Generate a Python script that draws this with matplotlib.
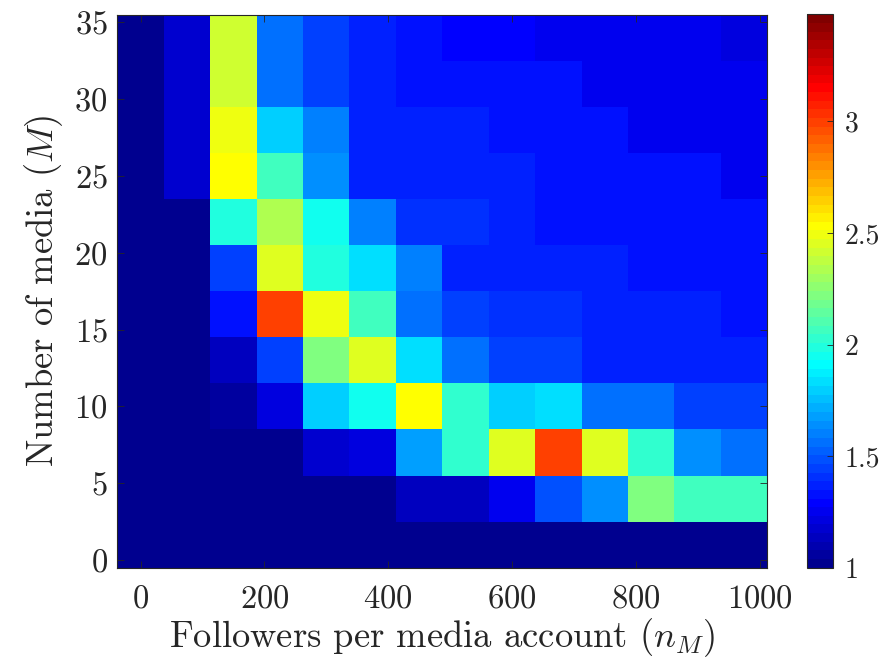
import numpy as np
import matplotlib
matplotlib.use("Agg")
import matplotlib.pyplot as plt
from matplotlib.colors import ListedColormap, Normalize

# ---- data ----
followers = [0, 75, 150, 225, 300, 375, 450, 525, 600, 675, 750, 825, 900, 975]
media = [1, 4, 7, 10, 13, 16, 19, 22, 25, 28, 31, 34]

row_M1  = [1.00, 1.00, 1.00, 1.00, 1.00, 1.00, 1.00, 1.00, 1.00, 1.00, 1.00, 1.00, 1.00, 1.00]
row_M4  = [1.00, 1.00, 1.00, 1.00, 1.02, 1.02, 1.14, 1.12, 1.25, 1.47, 1.65, 2.21, 2.05, 2.05]
row_M7  = [1.00, 1.00, 1.00, 1.01, 1.18, 1.23, 1.66, 2.01, 2.47, 3.01, 2.47, 2.01, 1.65, 1.57]
row_M10 = [1.00, 1.02, 1.04, 1.20, 1.78, 1.93, 2.55, 2.01, 1.78, 1.85, 1.56, 1.56, 1.46, 1.46]
row_M13 = [1.00, 1.00, 1.15, 1.43, 2.22, 2.47, 1.82, 1.58, 1.43, 1.43, 1.36, 1.36, 1.36, 1.36]
row_M16 = [1.00, 1.02, 1.31, 3.01, 2.51, 2.05, 1.56, 1.44, 1.40, 1.40, 1.35, 1.35, 1.35, 1.31]
row_M19 = [1.00, 1.01, 1.43, 2.47, 1.97, 1.85, 1.59, 1.36, 1.35, 1.35, 1.35, 1.31, 1.31, 1.31]
row_M22 = [1.00, 1.02, 1.97, 2.32, 1.93, 1.59, 1.40, 1.41, 1.35, 1.31, 1.31, 1.31, 1.31, 1.31]
row_M25 = [1.00, 1.18, 2.55, 2.05, 1.62, 1.36, 1.36, 1.36, 1.36, 1.31, 1.31, 1.31, 1.31, 1.26]
row_M28 = [1.00, 1.18, 2.51, 1.78, 1.59, 1.38, 1.38, 1.37, 1.31, 1.31, 1.31, 1.26, 1.26, 1.26]
row_M31 = [1.00, 1.18, 2.41, 1.56, 1.43, 1.35, 1.34, 1.31, 1.31, 1.31, 1.27, 1.27, 1.27, 1.27]
row_M34 = [1.00, 1.19, 2.41, 1.56, 1.43, 1.36, 1.31, 1.30, 1.30, 1.26, 1.26, 1.26, 1.26, 1.22]

x_ticks = [0, 200, 400, 600, 800, 1000]
y_ticks = [0, 5, 10, 15, 20, 25, 30, 35]
cbar_ticks = [1, 1.5, 2, 2.5, 3]
cbar_labels = ["1", "1.5", "2", "2.5", "3"]
c_min, c_max = 1.0, 3.48


def matlab_jet(m=64):
    n = int(np.ceil(m / 4))
    u = np.concatenate([np.arange(1, n + 1) / n, np.ones(n - 1), np.arange(n, 0, -1) / n])
    g = int(np.ceil(n / 2)) - (1 if m % 4 == 1 else 0) + np.arange(1, len(u) + 1)
    r = g + n
    b = g - n
    J = np.zeros((m, 3))
    k = r <= m
    J[r[k] - 1, 0] = u[k]
    k = (g >= 1) & (g <= m)
    J[g[k] - 1, 1] = u[k]
    k = b >= 1
    J[b[k] - 1, 2] = u[k]
    return ListedColormap(J)


plt.rcParams["font.family"] = "serif"
plt.rcParams["font.serif"] = ["cmr10"]
plt.rcParams["mathtext.fontset"] = "cm"
plt.rcParams["axes.formatter.use_mathtext"] = True
plt.rcParams["axes.unicode_minus"] = False

Z = np.array([row_M1, row_M4, row_M7, row_M10, row_M13, row_M16,
              row_M19, row_M22, row_M25, row_M28, row_M31, row_M34])

W, H = 881, 658
fig = plt.figure(figsize=(W / 100, H / 100), dpi=100)
ax = fig.add_axes([117.3 / W, 1 - 567.7 / H, 650 / W, 553 / H])

cmap = matlab_jet(64)
norm = Normalize(vmin=c_min, vmax=c_max)
mesh = ax.pcolormesh(followers, media, Z, cmap=cmap, norm=norm, shading="nearest")

ax.set_xlim(-37.5, 1012.5)
ax.set_ylim(-0.5, 35.5)
ax.set_xticks(x_ticks)
ax.set_yticks(y_ticks)

edge = (0.15, 0.15, 0.15)
for s in ax.spines.values():
    s.set_color(edge)
    s.set_linewidth(0.8)
ax.tick_params(direction="in", top=True, right=True, length=5, width=0.6,
               colors=edge, labelsize=23.5, labelcolor=edge)
ax.tick_params(axis="x", pad=12)
ax.tick_params(axis="y", pad=7)

ax.set_xlabel(r"Followers per media account ($n_M$)", fontsize=26.3, color=edge, labelpad=2)
ax.set_ylabel(r"Number of media ($M$)", fontsize=26.3, color=edge, labelpad=7)

cax = fig.add_axes([806.7 / W, 1 - 567.7 / H, 26.6 / W, 553.4 / H])
cb = fig.colorbar(mesh, cax=cax)
cb.set_ticks(cbar_ticks)
cb.set_ticklabels(cbar_labels)
cb.outline.set_edgecolor(edge)
cb.outline.set_linewidth(0.8)
cax.tick_params(direction="in", length=4, width=0.6, colors=edge,
                labelsize=20, labelcolor=edge, pad=8)

fig.savefig("out.png", dpi=100)
